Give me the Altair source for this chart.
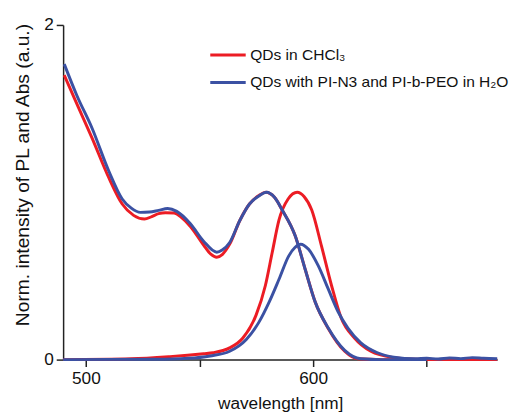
import altair as alt
import pandas as pd

SAMPLES = ["QDs in CHCl₃", "QDs with PI-N3 and PI-b-PEO in H₂O"]
COLORS = ["#ec1c24", "#3b51a3"]

# Absorption, QDs in CHCl3
red_abs_wl = [490.5, 496, 502.7, 510, 516, 521, 525.8, 529, 532, 535, 538.8, 542, 546, 551.8, 555, 557.6, 560, 563.3,
              567.7, 572, 576.3, 579.2, 583, 586.4, 592.2, 596.5, 600.9, 606.6, 613.9, 619.6, 630, 650]
red_abs_v = [1.70, 1.53, 1.325, 1.09, 0.93, 0.862, 0.84, 0.855, 0.872, 0.878, 0.876, 0.85, 0.796, 0.685, 0.63, 0.612, 0.628, 0.69,
             0.83, 0.93, 0.982, 1.0, 0.97, 0.894, 0.737, 0.54, 0.345, 0.188, 0.05, 0.005, 0.0, 0.0]

# PL, QDs in CHCl3
red_pl_wl = [490, 520, 537, 551.8, 556, 563.3, 569.1, 574.9, 579, 582, 585, 589, 593, 596, 599.4, 603.7, 608.1,
             612.4, 618.2, 625.4, 635.5, 645, 660, 681]
red_pl_v = [0.0, 0.005, 0.018, 0.035, 0.041, 0.07, 0.129, 0.266, 0.443, 0.64, 0.835, 0.96, 1.0, 0.975, 0.894, 0.678, 0.443,
            0.247, 0.129, 0.05, 0.012, 0.002, 0.0, 0.0]

# Absorption, QDs with PI-N3 and PI-b-PEO in H2O
blue_abs_wl = [490.5, 496, 502.7, 510, 516, 520, 524, 528, 532, 536, 540, 546, 551.8, 557.6, 560, 563.3,
               567.7, 572, 576.3, 579.5, 583, 586.4, 592.2, 596.5, 600.9, 606.6, 613.9, 621, 630, 650]
blue_abs_v = [1.766, 1.58, 1.384, 1.13, 0.96, 0.905, 0.88, 0.882, 0.892, 0.903, 0.886, 0.812, 0.708, 0.642, 0.655, 0.70,
              0.83, 0.93, 0.98, 1.0, 0.97, 0.894, 0.737, 0.54, 0.345, 0.19, 0.055, 0.005, 0.0, 0.0]

# PL, QDs with PI-N3 and PI-b-PEO in H2O
blue_pl_wl = [490, 530, 545, 554.7, 563.3, 570.6, 576.3, 580.7, 585, 589.3, 592, 594.5, 598, 602.3, 606.6, 611,
              615.3, 621, 628.3, 635.5, 645, 650, 655, 660, 665, 670, 675, 681]
blue_pl_v = [0.0, 0.002, 0.008, 0.022, 0.05, 0.12, 0.227, 0.345, 0.48, 0.62, 0.67, 0.69, 0.659, 0.56, 0.424, 0.286,
             0.188, 0.1, 0.041, 0.015, 0.005, 0.008, 0.004, 0.01, 0.006, 0.012, 0.008, 0.005]

rows = []
for sample, kind, wls, vals in [
    (SAMPLES[0], "abs", red_abs_wl, red_abs_v),
    (SAMPLES[0], "pl", red_pl_wl, red_pl_v),
    (SAMPLES[1], "abs", blue_abs_wl, blue_abs_v),
    (SAMPLES[1], "pl", blue_pl_wl, blue_pl_v),
]:
    for w, v in zip(wls, vals):
        rows.append({"sample": sample, "kind": kind, "wl": w, "v": v})
df = pd.DataFrame(rows)

axis_common = dict(
    grid=False,
    domainColor="#222222",
    domainWidth=1.5,
    tickColor="#222222",
    tickWidth=1.5,
    tickSize=7,
    labelFont="Liberation Sans",
    labelFontSize=17.5,
    labelColor="#111111",
    titleFont="Liberation Sans",
    titleFontWeight="normal",
    titleColor="#111111",
    format="d",
)

chart = alt.Chart(df).mark_line(strokeWidth=3, interpolate="monotone").encode(
    x=alt.X(
        "wl:Q",
        scale=alt.Scale(domain=[490, 681], nice=False, zero=False),
        axis=alt.Axis(
            values=[500, 550, 600, 650],
            labelExpr="datum.value % 100 == 0 ? datum.label : ''",
            title="wavelength [nm]",
            titleFontSize=17.5,
            titlePadding=8,
            labelPadding=3,
            **axis_common,
        ),
    ),
    y=alt.Y(
        "v:Q",
        scale=alt.Scale(domain=[0, 2], nice=False),
        axis=alt.Axis(
            values=[0, 1, 2],
            labelExpr="datum.value == 1 ? '' : datum.label",
            title="Norm. intensity of PL and Abs (a.u.)",
            titleFontSize=19.5,
            titleX=-31,
            titleY=152,
            titleBaseline="bottom",
            labelPadding=3,
            **axis_common,
        ),
    ),
    color=alt.Color(
        "sample:N",
        scale=alt.Scale(domain=SAMPLES, range=COLORS),
        legend=alt.Legend(
            title=None,
            orient="none",
            legendX=148,
            legendY=11,
            symbolType="stroke",
            symbolSize=1296,
            symbolStrokeWidth=3,
            labelFont="Liberation Sans",
            labelFontSize=15.8,
            labelColor="#111111",
            labelOffset=3,
            labelLimit=400,
            rowPadding=-13,
        ),
    ),
    detail="kind:N",
).properties(
    width=441,
    height=340,
    autosize=alt.AutoSizeParams(type="none"),
    padding={"left": 56, "top": 14, "right": 12, "bottom": 50},
).configure_view(stroke="transparent")

chart.save("out.html", embed_options={"renderer": "svg", "actions": False})
